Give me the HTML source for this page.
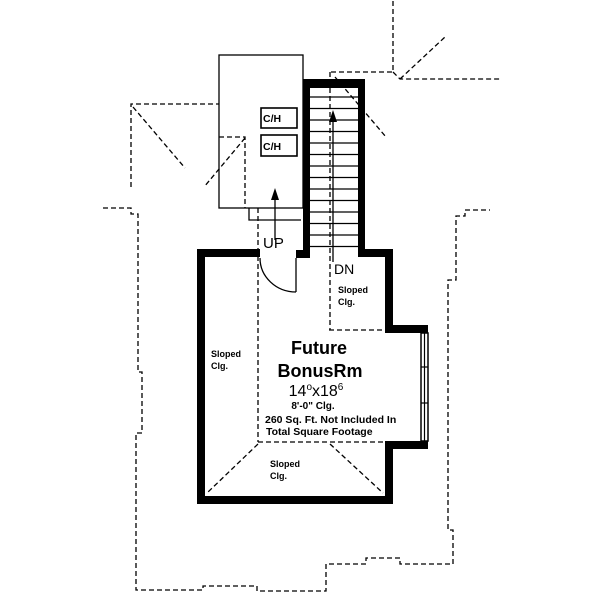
<!DOCTYPE html>
<html><head><style>
html,body{margin:0;padding:0;background:#fff;}
svg{display:block;}
text{font-family:"Liberation Sans",Arial,sans-serif;fill:#000;}
</style></head><body>
<svg width="600" height="600" viewBox="0 0 600 600" xmlns="http://www.w3.org/2000/svg">
<g fill="none" stroke="#000" stroke-width="1.3" stroke-dasharray="5,3">
  <polyline points="103,208 131,208 131,214 138,214 138,372 142,372 142,433 136,433 136,590 203,590 203,586 257,586 257,591 326,591 326,564 366,564 366,558 400,558 400,564 453,564 453,530 448,530 448,280 456,280 456,216 465,216 465,210 490,210"/>
  <polyline points="131,187 131,104 219,104"/>
  <line x1="133" y1="107" x2="185" y2="168"/>
  <polyline points="219,137 245,137 245,208"/>
  <line x1="245" y1="138" x2="204" y2="187"/>
  <polyline points="331,72 393,72 393,0"/>
  <polyline points="393,72 400,79 500,79"/>
  <line x1="400" y1="79" x2="445" y2="37"/>
  <line x1="335" y1="77" x2="386" y2="137"/>
  <line x1="330" y1="72" x2="330" y2="330"/>
  <line x1="258" y1="208" x2="258" y2="442"/>
  <polyline points="258,442 385,442"/>
  <line x1="258" y1="444" x2="207" y2="493"/>
  <line x1="330" y1="444" x2="383" y2="493"/>
  <polyline points="329,330 385,330"/>
</g>
<g fill="none" stroke="#000" stroke-width="1.3">
  <rect x="219" y="55" width="84" height="153"/>
  <polyline points="249,208 249,220 301,220"/>
  <rect x="261" y="108" width="36" height="20" stroke-width="1.6"/>
  <rect x="261" y="135" width="36" height="21" stroke-width="1.6"/>
  <line x1="296" y1="258" x2="296" y2="292"/>
  <path d="M260,258 A36,34 0 0 0 296,292"/>
  <line x1="275" y1="240" x2="275" y2="196"/>
  <line x1="333" y1="262" x2="333" y2="118"/>
</g>
<polygon points="275,188 271,200 279,200" fill="#000"/>
<polygon points="333,110 329,122 337,122" fill="#000"/>
<g stroke="#000" stroke-width="1.3">
  <line x1="310" y1="97" x2="358" y2="97"/><line x1="310" y1="108.5" x2="358" y2="108.5"/>
  <line x1="310" y1="120" x2="358" y2="120"/><line x1="310" y1="131.5" x2="358" y2="131.5"/>
  <line x1="310" y1="143" x2="358" y2="143"/><line x1="310" y1="154.5" x2="358" y2="154.5"/>
  <line x1="310" y1="166" x2="358" y2="166"/><line x1="310" y1="177.5" x2="358" y2="177.5"/>
  <line x1="310" y1="189" x2="358" y2="189"/><line x1="310" y1="200.5" x2="358" y2="200.5"/>
  <line x1="310" y1="212" x2="358" y2="212"/><line x1="310" y1="223.5" x2="358" y2="223.5"/>
  <line x1="310" y1="235" x2="358" y2="235"/><line x1="310" y1="246.5" x2="358" y2="246.5"/>
</g>
<g fill="#000">
  <rect x="303" y="79" width="62" height="9"/>
  <rect x="303" y="79" width="7" height="179"/>
  <rect x="358" y="79" width="7" height="178"/>
  <rect x="296" y="250" width="14" height="8"/>
  <rect x="358" y="249" width="35" height="8"/>
  <rect x="385" y="249" width="8" height="81"/>
  <rect x="385" y="325" width="43" height="8"/>
  <rect x="385" y="441" width="43" height="8"/>
  <rect x="385" y="441" width="8" height="63"/>
  <rect x="197" y="496" width="196" height="8"/>
  <rect x="197" y="249" width="8" height="255"/>
  <rect x="197" y="249" width="63" height="8"/>
</g>
<g fill="#fff" stroke="#000" stroke-width="1.5">
  <rect x="421" y="333" width="7" height="108"/>
</g>
<g stroke="#000" stroke-width="1.2">
  <line x1="424.5" y1="333" x2="424.5" y2="441"/>
  <line x1="421" y1="367" x2="428" y2="367"/>
  <line x1="421" y1="403" x2="428" y2="403"/>
</g>
<text x="263" y="122" font-size="10.5" font-weight="bold">C/H</text>
<text x="263" y="150" font-size="10.5" font-weight="bold">C/H</text>
<text x="263" y="248" font-size="15">UP</text>
<text x="334" y="274" font-size="14">DN</text>
<g font-size="9" font-weight="bold">
  <text x="338" y="293">Sloped</text><text x="338" y="305">Clg.</text>
  <text x="211" y="357">Sloped</text><text x="211" y="369">Clg.</text>
  <text x="270" y="467">Sloped</text><text x="270" y="479">Clg.</text>
</g>
<text x="319" y="354" font-size="18" font-weight="bold" text-anchor="middle">Future</text>
<text x="320" y="377" font-size="18" font-weight="bold" text-anchor="middle">BonusRm</text>
<text x="316" y="396" font-size="16" text-anchor="middle">14<tspan font-size="10" dy="-6">o</tspan><tspan dy="6">x18</tspan><tspan font-size="10" dy="-6">6</tspan></text>
<text x="313" y="409" font-size="10" font-weight="bold" text-anchor="middle">8'-0" Clg.</text>
<text x="265" y="423" font-size="10.5" font-weight="bold">260 Sq. Ft. Not Included In</text>
<text x="266" y="435" font-size="10.5" font-weight="bold">Total Square Footage</text>
</svg>
</body></html>
